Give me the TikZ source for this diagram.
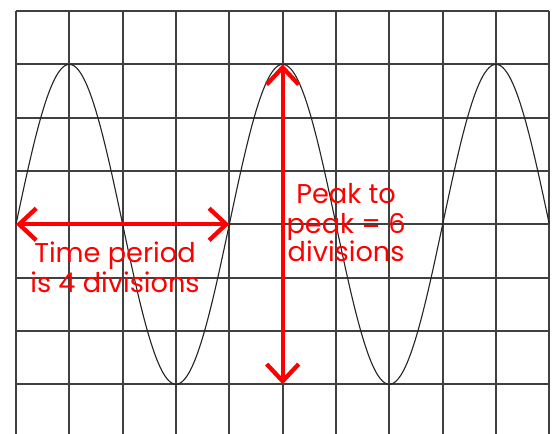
\documentclass[tikz,border=0pt]{standalone}
\usepackage{fontspec}
\setmainfont{Poppins}
\usetikzlibrary{arrows.meta}
\definecolor{lbl}{RGB}{255,0,0}
\tikzset{
  gridline/.style={line width=1.1pt, draw=black!75},
  wave/.style={line width=0.6pt, draw=black!85},
  measure/.style={line width=2.3pt, draw=lbl, line cap=round,
    {Straight Barb[length=0.32cm, width=0.6cm, line width=2.3pt]}-{Straight Barb[length=0.32cm, width=0.6cm, line width=2.3pt]}},
  lbltext/.style={text=lbl, font=\fontsize{14.5}{17}\selectfont, inner sep=0pt, anchor=base}
}
\begin{document}
\begin{tikzpicture}
\useasboundingbox (-0.3,0.086) rectangle (10.05,8.206);
\begin{scope}
\clip (-0.3,0.086) rectangle (10.05,8.206);
\foreach \i in {0,...,10} {\draw[gridline] (\i,0) -- (\i,8);}
\foreach \j in {1,...,8} {\draw[gridline] (0,\j) -- (10,\j);}
\draw[wave] plot[domain=0:10, samples=241, smooth] (\x,{4+3*sin(90*\x)});
\end{scope}
\coordinate (hl) at (0,4);
\coordinate (hr) at (4,4);
\coordinate (vt) at (5,7);
\coordinate (vb) at (5,1);
\draw[measure] (hl) -- (hr);
\draw[measure] (vt) -- (vb);
\node[lbltext] (t1) at (1.856,3.275) {Time period};
\node[lbltext] (t2) at (1.856,2.73) {is 4 divisions};
\node[lbltext] (p1) at (6.19,4.381) {Peak to};
\node[lbltext] (p2) at (6.19,3.837) {peak = 6};
\node[lbltext] (p3) at (6.19,3.294) {divisions};
\end{tikzpicture}
\end{document}
